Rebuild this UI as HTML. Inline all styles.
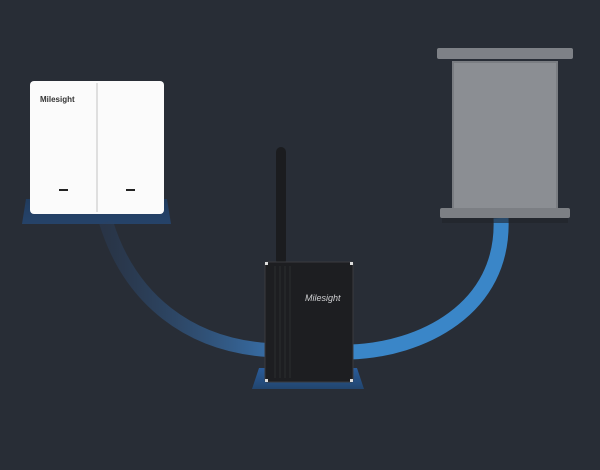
<!DOCTYPE html>
<html><head><style>
html,body{margin:0;padding:0;background:#282d36;}
body{width:600px;height:470px;position:relative;overflow:hidden;font-family:"Liberation Sans",sans-serif;}
.a{position:absolute;}
</style></head><body>
<svg class="a" style="left:0;top:0" width="600" height="470">
<defs>
<linearGradient id="lg" x1="0" y1="0" x2="1" y2="0">
<stop offset="0" stop-color="#2a4060" stop-opacity="0.4"/>
<stop offset="1" stop-color="#3a78b8" stop-opacity="0.85"/>
</linearGradient>
<linearGradient id="sw" x1="0" y1="0" x2="0" y2="1">
<stop offset="0" stop-color="#1e3e66" stop-opacity="0.8"/><stop offset="1" stop-color="#24518a" stop-opacity="0.6"/>
</linearGradient>
<linearGradient id="gb" x1="0" y1="0" x2="0" y2="1">
<stop offset="0" stop-color="#2a5c9a"/><stop offset="1" stop-color="#22456e"/>
</linearGradient>
</defs>
<polygon points="26,199 167,199 171,224 22,224" fill="url(#sw)"/>
<path d="M106,222 C130,300 190,345 268,350" stroke="url(#lg)" stroke-width="14" fill="none"/>
<path d="M501,218 C505,310 420,350 350,352" stroke="#3a86c8" stroke-width="15" fill="none"/>
<polygon points="259,368 357,368 364,389 252,389" fill="url(#gb)"/>
<rect x="437" y="48" width="136" height="11" rx="2" fill="#7e8187"/>
<rect x="453" y="62" width="104" height="148" fill="#8b8e93" stroke="#7a7d82" stroke-width="2"/>
<rect x="440" y="208" width="130" height="10" rx="2" fill="#7c7f84"/>
<rect x="442" y="218" width="126" height="5" fill="#1f232a" opacity="0.6"/>
<rect x="276" y="147" width="10" height="118" rx="5" fill="#1b1c1f"/>
<rect x="265" y="262" width="88" height="120" rx="2" fill="#1d1e21" stroke="#3a3b3e"/>
<g stroke="#2c2d30" stroke-width="1"><line x1="275" y1="266" x2="275" y2="378"/><line x1="280" y1="266" x2="280" y2="378"/><line x1="285" y1="266" x2="285" y2="378"/><line x1="290" y1="266" x2="290" y2="378"/></g>
<g fill="#ddd"><rect x="265" y="262" width="3" height="3"/><rect x="350" y="262" width="3" height="3"/><rect x="265" y="379" width="3" height="3"/><rect x="350" y="379" width="3" height="3"/></g>
<text x="305" y="301" font-size="9" font-style="italic" fill="#cfd0d2">Milesight</text>
<rect x="30" y="81" width="134" height="133" rx="4" fill="#fbfbfb"/>
<line x1="97" y1="83" x2="97" y2="212" stroke="#d6d6d6" stroke-width="1.5"/>
<rect x="59" y="189" width="9" height="2" fill="#222"/>
<rect x="126" y="189" width="9" height="2" fill="#222"/>
<text x="40" y="102" font-size="8" font-weight="bold" fill="#333">Milesight</text>
</svg>
</body></html>
